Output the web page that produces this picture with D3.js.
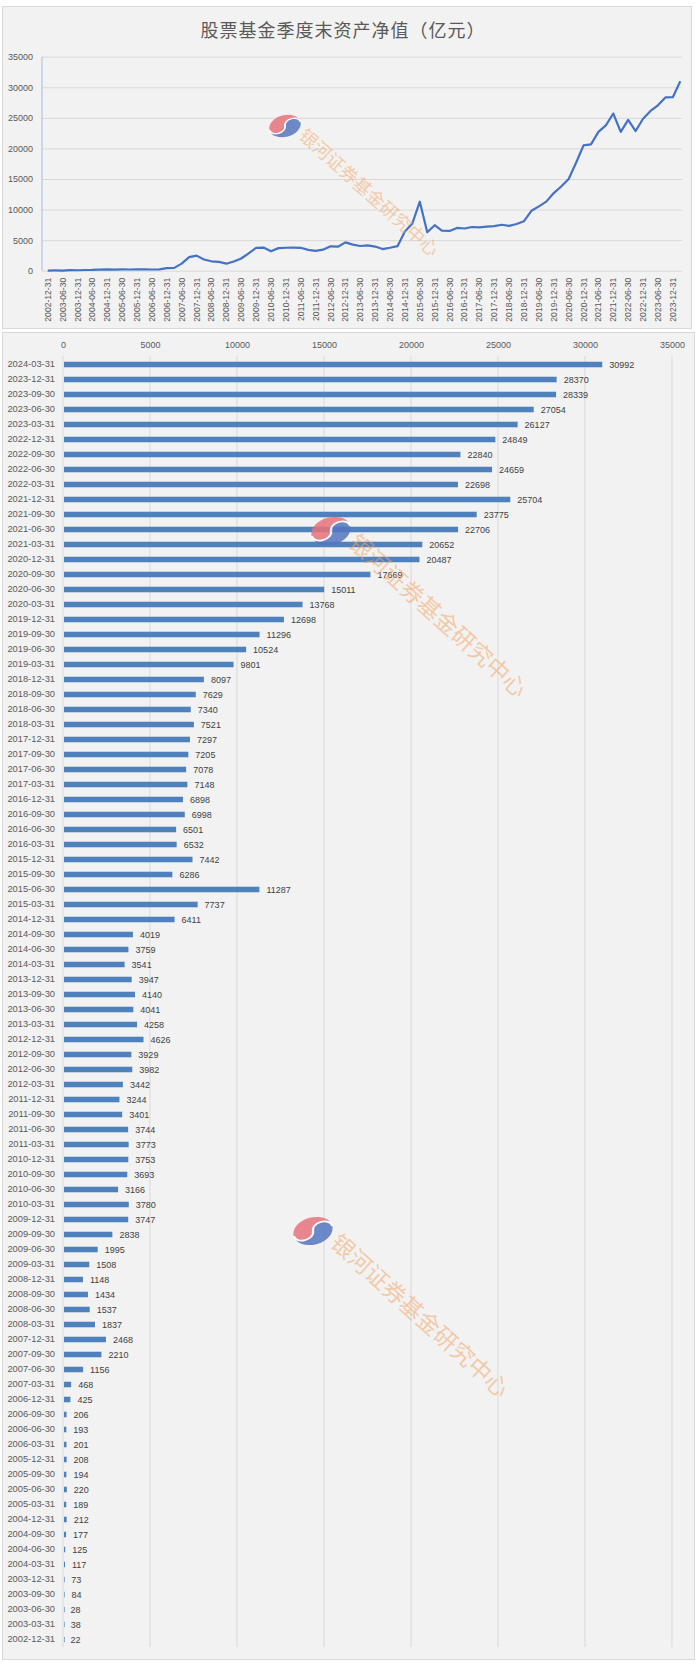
<!DOCTYPE html>
<meta charset="utf-8">
<html>
<head>
<script src="https://cdn.jsdelivr.net/npm/d3@7"></script>
<style>
  body { margin: 0; background: #fff; }
  text { font-family: "Liberation Sans", Arial, sans-serif; }
</style>
</head>
<body>
<div id="chart"></div>
<script>
    // quarter-end dates, oldest first
    var quarters = [
      "2002-12-31",
      "2003-03-31", "2003-06-30", "2003-09-30", "2003-12-31",
      "2004-03-31", "2004-06-30", "2004-09-30", "2004-12-31",
      "2005-03-31", "2005-06-30", "2005-09-30", "2005-12-31",
      "2006-03-31", "2006-06-30", "2006-09-30", "2006-12-31",
      "2007-03-31", "2007-06-30", "2007-09-30", "2007-12-31",
      "2008-03-31", "2008-06-30", "2008-09-30", "2008-12-31",
      "2009-03-31", "2009-06-30", "2009-09-30", "2009-12-31",
      "2010-03-31", "2010-06-30", "2010-09-30", "2010-12-31",
      "2011-03-31", "2011-06-30", "2011-09-30", "2011-12-31",
      "2012-03-31", "2012-06-30", "2012-09-30", "2012-12-31",
      "2013-03-31", "2013-06-30", "2013-09-30", "2013-12-31",
      "2014-03-31", "2014-06-30", "2014-09-30", "2014-12-31",
      "2015-03-31", "2015-06-30", "2015-09-30", "2015-12-31",
      "2016-03-31", "2016-06-30", "2016-09-30", "2016-12-31",
      "2017-03-31", "2017-06-30", "2017-09-30", "2017-12-31",
      "2018-03-31", "2018-06-30", "2018-09-30", "2018-12-31",
      "2019-03-31", "2019-06-30", "2019-09-30", "2019-12-31",
      "2020-03-31", "2020-06-30", "2020-09-30", "2020-12-31",
      "2021-03-31", "2021-06-30", "2021-09-30", "2021-12-31",
      "2022-03-31", "2022-06-30", "2022-09-30", "2022-12-31",
      "2023-03-31", "2023-06-30", "2023-09-30", "2023-12-31",
      "2024-03-31"
    ];

    // net asset value (100 million yuan), same order
    var netAssets = [
      22,
      38, 28, 84, 73,
      117, 125, 177, 212,
      189, 220, 194, 208,
      201, 193, 206, 425,
      468, 1156, 2210, 2468,
      1837, 1537, 1434, 1148,
      1508, 1995, 2838, 3747,
      3780, 3166, 3693, 3753,
      3773, 3744, 3401, 3244,
      3442, 3982, 3929, 4626,
      4258, 4041, 4140, 3947,
      3541, 3759, 4019, 6411,
      7737, 11287, 6286, 7442,
      6532, 6501, 6998, 6898,
      7148, 7078, 7205, 7297,
      7521, 7340, 7629, 8097,
      9801, 10524, 11296, 12698,
      13768, 15011, 17669, 20487,
      20652, 22706, 23775, 25704,
      22698, 24659, 22840, 24849,
      26127, 27054, 28339, 28370,
      30992
    ];

    var valueTicks = [0, 5000, 10000, 15000, 20000, 25000, 30000, 35000];

    var title = "股票基金季度末资产净值（亿元）";
    var watermarkText = "银河证券基金研究中心";

    var data = quarters.map(function(q, i) { return { date: q, value: netAssets[i] }; });
    var fmt = d3.format("d");

    var svg = d3.select("#chart")
      .append("svg")
        .attr("width", 700)
        .attr("height", 1671);

    // ---------- top panel: line chart ----------
    svg.append("rect")
      .attr("x", 2.5).attr("y", 6.5)
      .attr("width", 689).attr("height", 322)
      .attr("fill", "#f2f2f2")
      .attr("stroke", "#d9d9d9");

    svg.append("text")
      .attr("x", 343).attr("y", 31)
      .attr("dy", "0.35em")
      .attr("text-anchor", "middle")
      .attr("fill", "#595959")
      .style("font-family", "'Noto Sans CJK SC', sans-serif")
      .style("font-size", "18px")
      .style("letter-spacing", "1px")
      .text(title);

    var x = d3.scaleBand()
      .domain(quarters)
      .range([44, 684]);

    var y = d3.scaleLinear()
      .domain([0, 35000])
      .range([270.7, 56.7]);

    // horizontal gridlines + y labels
    var yAxis = svg.append("g")
      .attr("transform", "translate(42,0)")
      .call(d3.axisLeft(y).tickValues(valueTicks).tickFormat(fmt).tickSize(-640).tickPadding(9));
    yAxis.select(".domain").remove();
    yAxis.selectAll("line").attr("stroke", "#d9d9d9");
    yAxis.selectAll("text")
      .attr("fill", "#595959")
      .style("font-size", "9px");

    svg.append("line")
      .attr("x1", 42).attr("x2", 42)
      .attr("y1", y(35000)).attr("y2", y(0))
      .attr("stroke", "#a9bcdb")
      .attr("stroke-width", 1);

    // x labels, every second quarter
    var xAxis = svg.append("g")
      .attr("transform", "translate(0," + y(0) + ")")
      .call(d3.axisBottom(x)
        .tickValues(quarters.filter(function(d, i) { return i % 2 === 0; }))
        .tickSize(0));
    xAxis.select(".domain").remove();
    xAxis.selectAll("text")
      .attr("transform", "rotate(-90)")
      .attr("text-anchor", "end")
      .attr("x", -7)
      .attr("y", 0)
      .attr("dy", "0.35em")
      .attr("fill", "#595959")
      .style("font-size", "8.6px");

    svg.append("path")
      .datum(data)
      .attr("fill", "none")
      .attr("stroke", "#4472c4")
      .attr("stroke-width", 2.2)
      .attr("stroke-linejoin", "round")
      .attr("d", d3.line()
        .x(function(d) { return x(d.date) + x.bandwidth() / 2; })
        .y(function(d) { return y(d.value); })
      );

    // ---------- bottom panel: bar chart ----------
    svg.append("rect")
      .attr("x", 2.5).attr("y", 332.5)
      .attr("width", 692).attr("height", 1327)
      .attr("fill", "#f2f2f2")
      .attr("stroke", "#d9d9d9");

    var xb = d3.scaleLinear()
      .domain([0, 35000])
      .range([63, 672]);

    var yb = d3.scaleBand()
      .domain(quarters.slice().reverse())
      .range([357, 1647])
      .paddingInner(0.63)
      .paddingOuter(0.315);

    // vertical gridlines
    svg.append("g")
      .selectAll("line")
      .data(valueTicks)
      .enter().append("line")
        .attr("x1", function(d) { return xb(d); })
        .attr("x2", function(d) { return xb(d); })
        .attr("y1", 356)
        .attr("y2", 1647)
        .attr("stroke", "#d9d9d9");

    var topAxis = svg.append("g")
      .attr("transform", "translate(0,348)")
      .call(d3.axisTop(xb).tickValues(valueTicks).tickFormat(fmt).tickSize(0).tickPadding(0));
    topAxis.select(".domain").remove();
    topAxis.selectAll("text")
      .attr("fill", "#595959")
      .style("font-size", "9px");

    var leftAxis = svg.append("g")
      .attr("transform", "translate(63,0)")
      .call(d3.axisLeft(yb).tickSize(0).tickPadding(8));
    leftAxis.select(".domain").remove();
    leftAxis.selectAll("text")
      .attr("fill", "#595959")
      .style("font-size", "9.3px");

    svg.append("g")
      .selectAll("rect")
      .data(data)
      .enter().append("rect")
        .attr("x", xb(0) + 1)
        .attr("y", function(d) { return yb(d.date); })
        .attr("width", function(d) { return Math.max(0.6, xb(d.value) - xb(0) - 1); })
        .attr("height", yb.bandwidth())
        .attr("fill", "#4f81bd");

    svg.append("g")
      .selectAll("text")
      .data(data)
      .enter().append("text")
        .attr("x", function(d) { return xb(d.value) + 7; })
        .attr("y", function(d) { return yb(d.date) + yb.bandwidth() / 2; })
        .attr("dy", "0.35em")
        .attr("fill", "#404040")
        .style("font-size", "9px")
        .text(function(d) { return d.value; });

    // ---------- watermarks ----------
    function watermark(lx, ly, logoW, fontSize) {
      var g = svg.append("g").attr("opacity", 0.85);
      var logo = g.append("g")
        .attr("transform", "translate(" + lx + "," + ly + ") rotate(-15) scale(" + (logoW / 2) + "," + (logoW / 2 * 0.68) + ")");
      logo.append("path")
        .attr("d", "M-1,0 A1,1 0 0,1 1,0 A0.5,0.5 0 0,0 0,0 A0.5,0.5 0 0,1 -1,0 Z")
        .attr("fill", "#e8737c");
      logo.append("path")
        .attr("d", "M1,0 A1,1 0 0,1 -1,0 A0.5,0.5 0 0,0 0,0 A0.5,0.5 0 0,1 1,0 Z")
        .attr("fill", "#5676c0");
      logo.append("path")
        .attr("d", "M-1,0 A0.5,0.5 0 0,0 0,0 A0.5,0.5 0 0,1 1,0")
        .attr("fill", "none")
        .attr("stroke", "#fff")
        .attr("stroke-width", 0.12);
      g.append("text")
        .attr("transform", "translate(" + (lx + logoW * 0.4) + "," + (ly + logoW * 0.35) + ") rotate(42)")
        .attr("fill", "#f4a460")
        .attr("fill-opacity", 0.6)
        .style("font-family", "'Noto Sans CJK SC', sans-serif")
        .style("font-size", fontSize + "px")
        .text(watermarkText);
    }

    watermark(285, 126, 32, 18);
    watermark(331, 531, 40, 23);
    watermark(313, 1231, 40, 23);
</script>
</body>
</html>
